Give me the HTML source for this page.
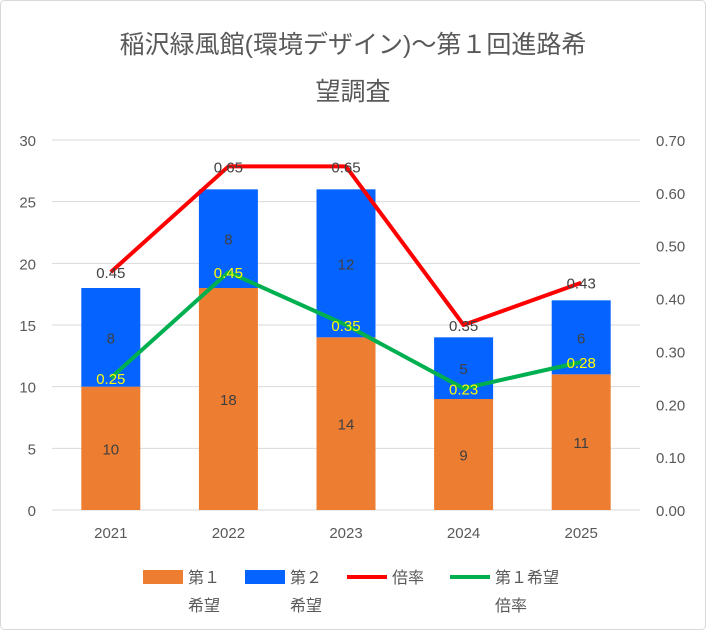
<!DOCTYPE html>
<html><head><meta charset="utf-8"><style>
body{margin:0;background:#fff;}
svg{display:block;font-family:"Liberation Sans","Noto Sans CJK JP",sans-serif;}
</style></head><body>
<svg id="c" width="706" height="630">
<rect x="0.5" y="0.5" width="705" height="629" rx="4" fill="#fff" stroke="#d9d9d9"/>
<text x="353" y="53" text-anchor="middle" font-size="25" fill="#595959">稲沢緑風館(環境デザイン)～第１回進路希</text>
<text x="353" y="100" text-anchor="middle" font-size="25" fill="#595959">望調査</text>
<g id="grid"></g><g id="bars"></g><g id="lines"></g><g id="labels"></g><g id="axes"></g>
<g font-size="16" fill="#595959">
<rect x="143" y="570" width="40" height="14" fill="#ED7D31"/>
<text x="188" y="583">第１</text>
<text x="188" y="611">希望</text>
<rect x="245" y="570" width="40" height="14" fill="#0563FF"/>
<text x="290" y="583">第２</text>
<text x="290" y="611">希望</text>
<line x1="347" y1="577" x2="387" y2="577" stroke="#FF0000" stroke-width="4"/>
<text x="392" y="583">倍率</text>
<line x1="450" y1="577" x2="490" y2="577" stroke="#00B050" stroke-width="4"/>
<text x="495" y="583">第１希望</text>
<text x="495" y="611">倍率</text>
</g>
</svg>
<script>
const categories=["2021","2022","2023","2024","2025"];
const firstChoice=[10,18,14,9,11];
const secondChoice=[8,8,12,5,6];
const ratio=[0.45,0.65,0.65,0.35,0.43];
const firstRatio=[0.25,0.45,0.35,0.23,0.28];
const leftTicks=[0,5,10,15,20,25,30];
const rightTicks=["0.00","0.10","0.20","0.30","0.40","0.50","0.60","0.70"];
const NS="http://www.w3.org/2000/svg";
const y0=510,yTop=140,x0=52,x1=640,leftMax=30,rightMax=0.7;
const band=(x1-x0)/categories.length;
const yL=v=>y0-(y0-yTop)*v/leftMax;
const yR=v=>y0-(y0-yTop)*v/rightMax;
const xC=i=>x0+band*(i+0.5);
const bw=59;
function mk(tag,attrs,parent,txt){const e=document.createElementNS(NS,tag);for(const k in attrs)e.setAttribute(k,attrs[k]);if(txt!==undefined)e.textContent=txt;document.getElementById(parent).appendChild(e);return e;}
leftTicks.forEach(t=>{
 const g=mk('line',{x1:x0,x2:x1,y1:yL(t),y2:yL(t),stroke:'#d9d9d9','stroke-width':1},'grid');
 
 
 const l=mk('text',{x:36,y:yL(t)+6,'text-anchor':'end','font-size':15,fill:'#595959'},'axes',String(t));
 
 
});
rightTicks.forEach(t=>{
 const l=mk('text',{x:656,y:yR(parseFloat(t))+6,'font-size':15,fill:'#595959'},'axes',t);
 
 
});
categories.forEach((c,i)=>{
 const l=mk('text',{x:xC(i),y:538,'text-anchor':'middle','font-size':15,fill:'#595959'},'axes',c);
 
 
 const a=firstChoice[i],b=secondChoice[i];
 const r1=mk('rect',{x:xC(i)-bw/2,y:yL(a),width:bw,height:y0-yL(a),fill:'#ED7D31'},'bars');
 
 
 const r2=mk('rect',{x:xC(i)-bw/2,y:yL(a+b),width:bw,height:yL(a)-yL(a+b),fill:'#0563FF'},'bars');
 
 
 const t1=mk('text',{x:xC(i),y:(y0+yL(a))/2+6,'text-anchor':'middle','font-size':15,fill:'#404040'},'labels',String(a));
 
 
 const t2=mk('text',{x:xC(i),y:(yL(a)+yL(a+b))/2+6,'text-anchor':'middle','font-size':15,fill:'#404040'},'labels',String(b));
 
 
 const t3=mk('text',{x:xC(i),y:yR(ratio[i])+6,'text-anchor':'middle','font-size':15,fill:'#404040'},'labels',ratio[i].toFixed(2));
 
 
 const t4=mk('text',{x:xC(i),y:yR(firstRatio[i])+6,'text-anchor':'middle','font-size':15,fill:'#FFFF00'},'labels',firstRatio[i].toFixed(2));
 
 
});
const p1=mk('polyline',{points:ratio.map((v,i)=>xC(i)+','+yR(v)).join(' '),fill:'none',stroke:'#FF0000','stroke-width':4,'stroke-linejoin':'round'},'lines');


const p2=mk('polyline',{points:firstRatio.map((v,i)=>xC(i)+','+yR(v)).join(' '),fill:'none',stroke:'#00B050','stroke-width':4,'stroke-linejoin':'round'},'lines');


</script>
</body></html>
